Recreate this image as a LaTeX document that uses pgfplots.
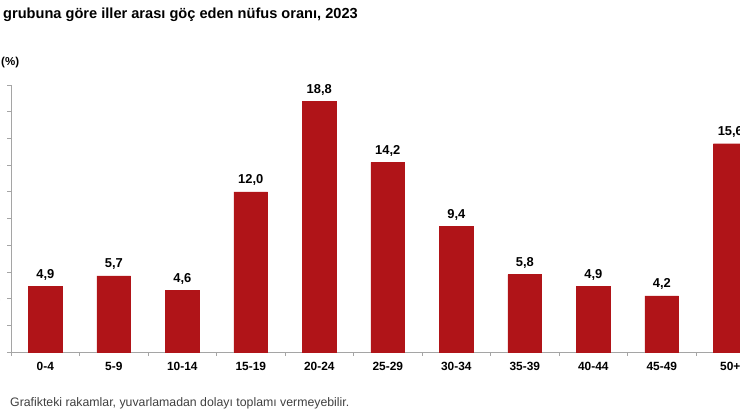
\documentclass[border=0pt]{standalone}
\usepackage{fontspec}
\setmainfont{Liberation Sans}
\usepackage{pgfplots}
\pgfplotsset{compat=1.18}
\definecolor{barred}{RGB}{176,20,24}
\definecolor{axgray}{RGB}{165,165,165}
\begin{document}
\begin{tikzpicture}[x=1pt,y=1pt]
\path[use as bounding box] (0pt,0pt) rectangle (740pt,420pt);
\clip (0pt,0pt) rectangle (740pt,420pt);
\node[anchor=base west, font=\bfseries\fontsize{14.6}{16}\selectfont, inner sep=0] at (3pt,401pt) {grubuna göre iller arası göç eden nüfus oranı, 2023};
\node[anchor=base west, font=\bfseries\fontsize{11.5}{13}\selectfont, inner sep=0] at (1pt,354pt) {(\%)};
\node[anchor=base west, font=\fontsize{12.3}{14}\selectfont, text=black!75, inner sep=0] at (10pt,13pt) {Grafikteki rakamlar, yuvarlamadan dolayı toplamı vermeyebilir.};
\begin{axis}[
  at={(11.05pt,68pt)}, anchor=south west,
  x=68.5pt, y=13.35pt,
  xmin=-0.5, xmax=10.5, ymin=0, ymax=20,
  axis lines=left, axis line style={-, axgray, line width=0.7pt},
  ybar, bar width=33.7pt,
  ytick={0,2,...,20},
  yticklabel style={font=\fontsize{11}{12}\selectfont, text=black!80, xshift=-3pt},
  /pgf/number format/assume math mode=true,
  xtick={0,...,10},
  xticklabels={0-4,5-9,10-14,15-19,20-24,25-29,30-34,35-39,40-44,45-49,50+},
  xticklabel style={font=\bfseries\fontsize{11.9}{13}\selectfont, anchor=base, yshift=-15pt},
  major x tick style={draw=none},
  minor xtick={-0.5,0.5,...,10.5},
  tick align=outside, major tick length=4pt, minor tick length=4pt,
  tick style={axgray, line width=0.7pt},
  nodes near coords, point meta=explicit symbolic,
  every node near coord/.append style={font=\bfseries\fontsize{12.9}{14}\selectfont, anchor=base, yshift=8pt},
  clip=false,
]
\addplot[fill=barred, draw=barred] table[meta=label] {
x y label
0 4.9 4,9
1 5.7 5,7
2 4.6 4,6
3 12.0 12,0
4 18.8 18,8
5 14.2 14,2
6 9.4 9,4
7 5.8 5,8
8 4.9 4,9
9 4.2 4,2
10 15.6 15,6
};
\end{axis}
\end{tikzpicture}
\end{document}
